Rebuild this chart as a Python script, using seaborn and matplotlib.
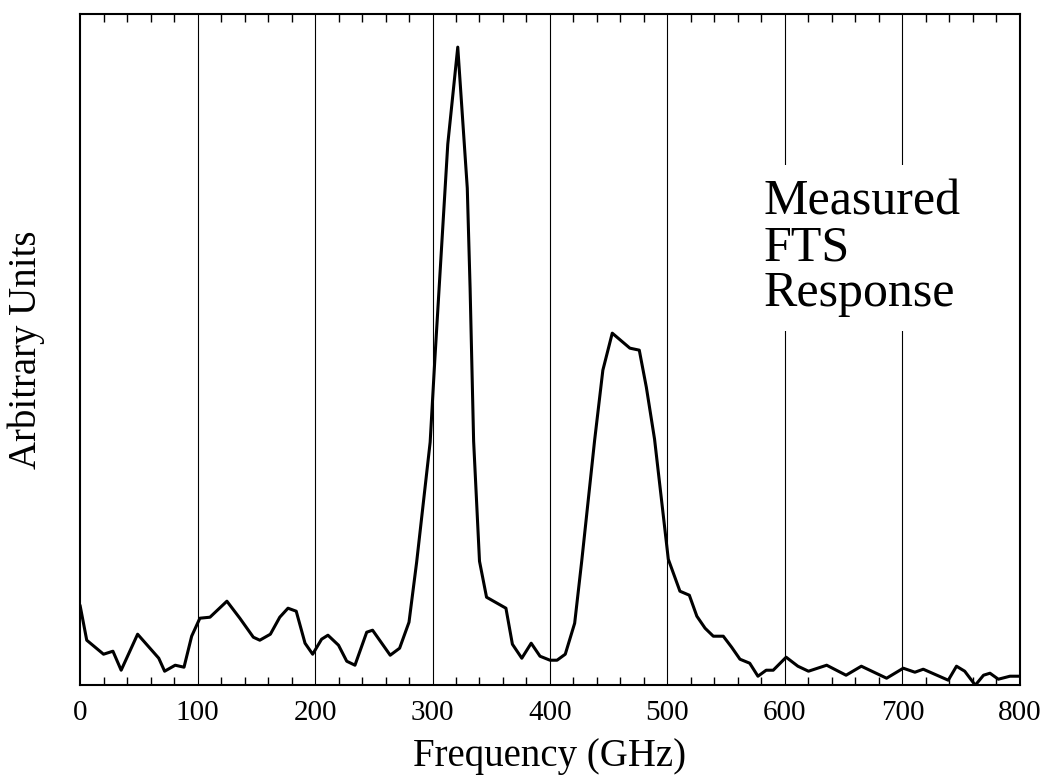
import matplotlib
matplotlib.use('Agg')
import matplotlib.pyplot as plt
import numpy as np
import pandas as pd
import seaborn as sns

# 读图得到的数据点 (频率 GHz, 任意单位)
freq_ghz = [
    0, 5.7, 20, 28, 35, 49, 67, 72, 81, 88.5, 95, 102, 110.6, 125, 136,
    147.5, 153, 162, 170, 177, 184, 191.5, 198, 205.6, 211, 220, 227, 234,
    244, 249, 264, 272, 280, 286.5, 298, 302, 313, 321.5, 329.6, 332, 335,
    340, 346, 362.5, 368, 376, 384, 391.5, 400, 406, 413, 421, 427, 438,
    445, 453, 468, 476, 482, 489, 500.7, 510.6, 518.6, 525, 532, 539,
    547.5, 554.6, 561.7, 570, 577, 584, 590, 601, 611, 620, 635.5, 652,
    665, 686.5, 693.6, 700.7, 710.6, 717.7, 739, 746, 753, 762, 769,
    774.5, 781.6, 791.5, 800,
]
response = [
    80, 45, 31, 34, 15, 51, 27, 14, 20, 18, 49, 67, 68, 84, 67,
    48, 45, 51, 68, 77, 74, 42, 31, 46, 50, 40, 24, 20,
    53, 55, 30, 37, 63, 123, 243, 326, 541, 638, 497, 397, 244,
    124, 88, 77, 41, 27, 42, 29, 25, 25, 31, 62, 124, 245,
    315, 352, 337, 335, 298, 246, 126, 94, 90, 69, 57, 49,
    49, 38, 26, 22, 9, 15, 15, 28, 19, 14, 20, 10,
    19, 7, 12, 17, 13, 16, 5, 19, 14, 0, 10,
    12, 6, 9, 9,
]

x_ticks = [0, 100, 200, 300, 400, 500, 600, 700, 800]
note_text = "Measured\nFTS\nResponse"

sns.set_style("white")
plt.rcParams['font.family'] = ['Liberation Serif', 'DejaVu Serif']
plt.rcParams['text.color'] = 'black'
plt.rcParams['axes.labelcolor'] = 'black'
plt.rcParams['xtick.color'] = 'black'

df = pd.DataFrame({'freq': freq_ghz, 'resp': response})

fig = plt.figure(figsize=(10.49, 7.84), dpi=100)
ax = fig.add_axes([0.0763, 0.126, 0.896, 0.856])

# 竖直网格线 (每 100 GHz)
for xv in x_ticks[1:-1]:
    ax.axvline(xv, color='black', lw=0.8, zorder=1)

sns.lineplot(data=df, x='freq', y='resp', ax=ax, color='black', lw=2.2, zorder=3)

ax.set_xlim(0, 800)
ax.set_ylim(0, 671)
ax.set_xticks(x_ticks)
ax.set_xticks(np.arange(0, 801, 20), minor=True)
ax.set_yticks([])
ax.tick_params(axis='x', which='major', length=0, pad=11, labelsize=21)
ax.tick_params(axis='x', which='minor', direction='in', length=6, width=1,
               top=True, bottom=True, color='black')

for sp in ax.spines.values():
    sp.set_color('black')
    sp.set_linewidth(1.5)

ax.set_xlabel('Frequency (GHz)', fontsize=28, labelpad=8)
ax.set_ylabel('Arbitrary Units', fontsize=28, labelpad=25)

ax.text(582, 506, note_text, fontsize=36, linespacing=0.98, va='top', ha='left',
        zorder=2, bbox=dict(facecolor='white', edgecolor='none', pad=10))

fig.savefig('out.png', dpi=100)
